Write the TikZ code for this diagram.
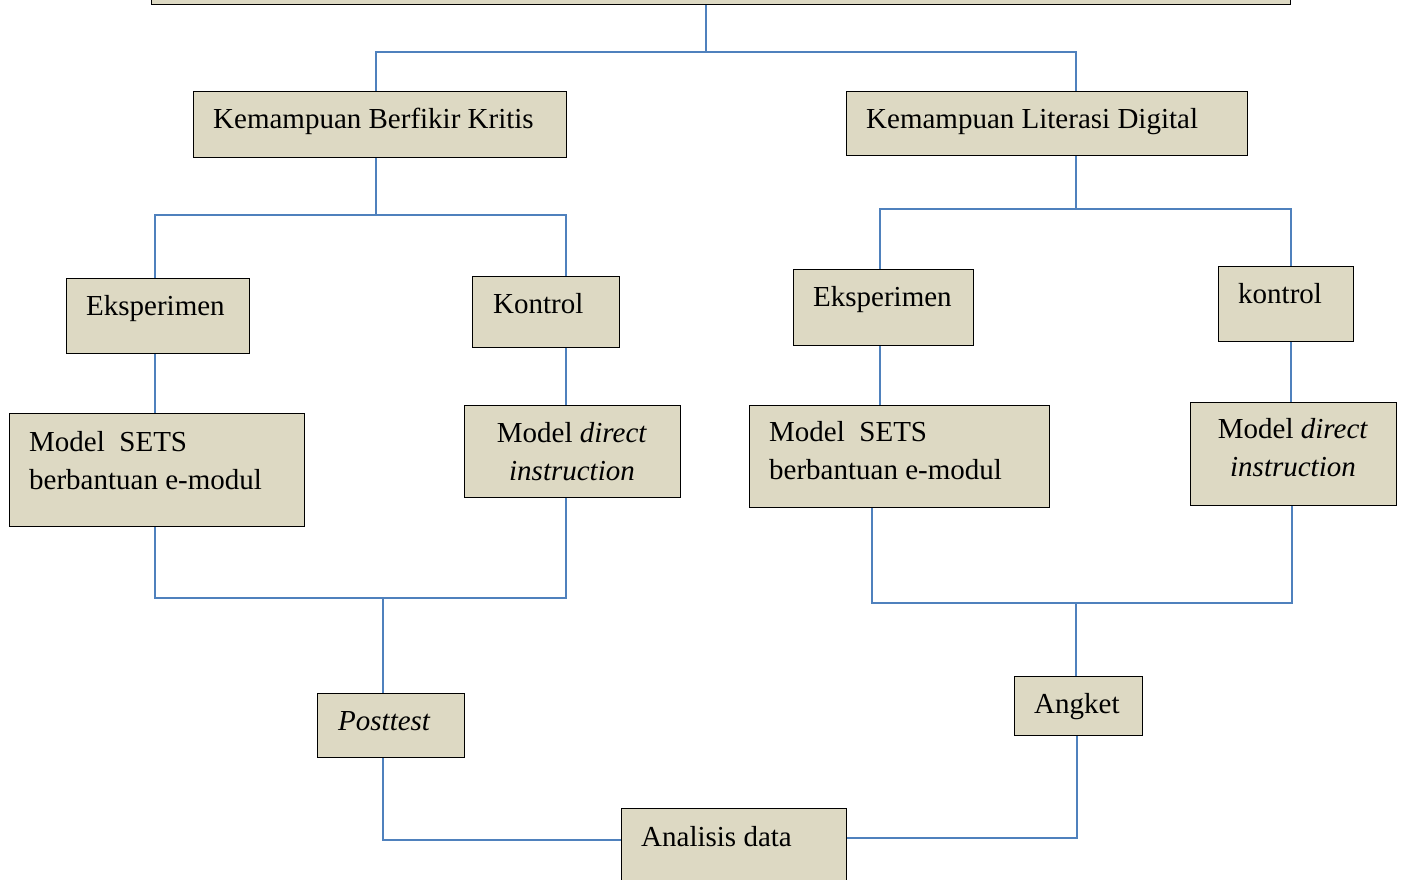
\documentclass[tikz,border=0pt]{standalone}
\usepackage{fontspec}
\setmainfont{Liberation Serif}
\definecolor{boxfill}{HTML}{DDD9C3}
\definecolor{linkblue}{HTML}{4F81BD}
\tikzset{
	box/.style={draw=black, fill=boxfill, line width=1.2pt, inner sep=0pt, anchor=north west},
	txt/.style={anchor=base west, inner sep=0pt, align=left, font=\fontsize{29}{38}\selectfont},
	link/.style={draw=linkblue, line width=1.8pt},
}
\begin{document}
\begin{tikzpicture}[x=1pt,y=-1pt]
		\useasboundingbox (0,0) rectangle (1404,879);
		\clip (0,0) rectangle (1404,879);

		% boxes
		\node [box, minimum width=1139, minimum height=44] (top) at (151,-40) {};
		\node [box, minimum width=373, minimum height=66] (kbk) at (193,91) {};
		\node [box, minimum width=401, minimum height=64] (kld) at (846,91) {};
		\node [box, minimum width=183, minimum height=75] (eksL) at (66,278) {};
		\node [box, minimum width=147, minimum height=71] (konL) at (472,276) {};
		\node [box, minimum width=295, minimum height=113] (setsL) at (9,413) {};
		\node [box, minimum width=216, minimum height=92] (dirL) at (464,405) {};
		\node [box, minimum width=180, minimum height=76] (eksR) at (793,269) {};
		\node [box, minimum width=135, minimum height=75] (konR) at (1218,266) {};
		\node [box, minimum width=300, minimum height=102] (setsR) at (749,405) {};
		\node [box, minimum width=206, minimum height=103] (dirR) at (1190,402) {};
		\node [box, minimum width=147, minimum height=64] (post) at (317,693) {};
		\node [box, minimum width=128, minimum height=59] (ang) at (1014,676) {};
		\node [box, minimum width=225, minimum height=100] (ana) at (621,808) {};

		% texts (base = last line)
		\node [txt] (kbk-t) at (213,128) {Kemampuan Berfikir Kritis};
		\node [txt] (kld-t) at (866,128) {Kemampuan Literasi Digital};
		\node [txt] (eksL-t) at (86,315) {Eksperimen};
		\node [txt] (konL-t) at (493,313) {Kontrol};
		\node [txt] (setsL-t) at (29,489) {Model\ \ SETS\\berbantuan e-modul};
		\node [txt, anchor=base, align=center] (dirL-t) at (572,480) {Model \textit{direct}\\\textit{instruction}};
		\node [txt] (eksR-t) at (813,306) {Eksperimen};
		\node [txt] (konR-t) at (1238,303) {kontrol};
		\node [txt] (setsR-t) at (769,479) {Model\ \ SETS\\berbantuan e-modul};
		\node [txt, anchor=base, align=center] (dirR-t) at (1293,476) {Model \textit{direct}\\\textit{instruction}};
		\node [txt] (post-t) at (338,730) {\textit{Posttest}};
		\node [txt] (ang-t) at (1034,713) {Angket};
		\node [txt] (ana-t) at (641,846) {Analisis data};

		% top split
		\coordinate (t0) at (706,52);
		\coordinate (t1) at (376,52);
		\coordinate (t2) at (1076,52);
		\draw [link] (top.south -| t0) -- (t0);
		\draw [link] (kbk.north -| t1) -- (t1) -- (t2) -- (kld.north -| t2);

		% left branch
		\coordinate (a0) at (376,215);
		\coordinate (a1) at (155,215);
		\coordinate (a2) at (566,215);
		\draw [link] (kbk.south -| a0) -- (a0);
		\draw [link] (eksL.north -| a1) -- (a1) -- (a2) -- (konL.north -| a2);
		\draw [link] (eksL.south -| a1) -- (setsL.north -| a1);
		\draw [link] (konL.south -| a2) -- (dirL.north -| a2);
		\coordinate (b0) at (383,598);
		\coordinate (b1) at (155,598);
		\coordinate (b2) at (566,598);
		\draw [link] (setsL.south -| b1) -- (b1) -- (b2) -- (dirL.south -| b2);
		\draw [link] (b0) -- (post.north -| b0);
		\coordinate (c1) at (383,840);
		\draw [link] (post.south -| c1) -- (c1) -- (ana.west |- c1);

		% right branch
		\coordinate (d0) at (1076,209);
		\coordinate (d1) at (880,209);
		\coordinate (d2) at (1291,209);
		\draw [link] (kld.south -| d0) -- (d0);
		\draw [link] (eksR.north -| d1) -- (d1) -- (d2) -- (konR.north -| d2);
		\draw [link] (eksR.south -| d1) -- (setsR.north -| d1);
		\draw [link] (konR.south -| d2) -- (dirR.north -| d2);
		\coordinate (e0) at (1076,603);
		\coordinate (e1) at (872,603);
		\coordinate (e2) at (1292,603);
		\draw [link] (setsR.south -| e1) -- (e1) -- (e2) -- (dirR.south -| e2);
		\draw [link] (e0) -- (ang.north -| e0);
		\coordinate (f1) at (1077,838);
		\draw [link] (ang.south -| f1) -- (f1) -- (ana.east |- f1);
	\end{tikzpicture}
\end{document}
